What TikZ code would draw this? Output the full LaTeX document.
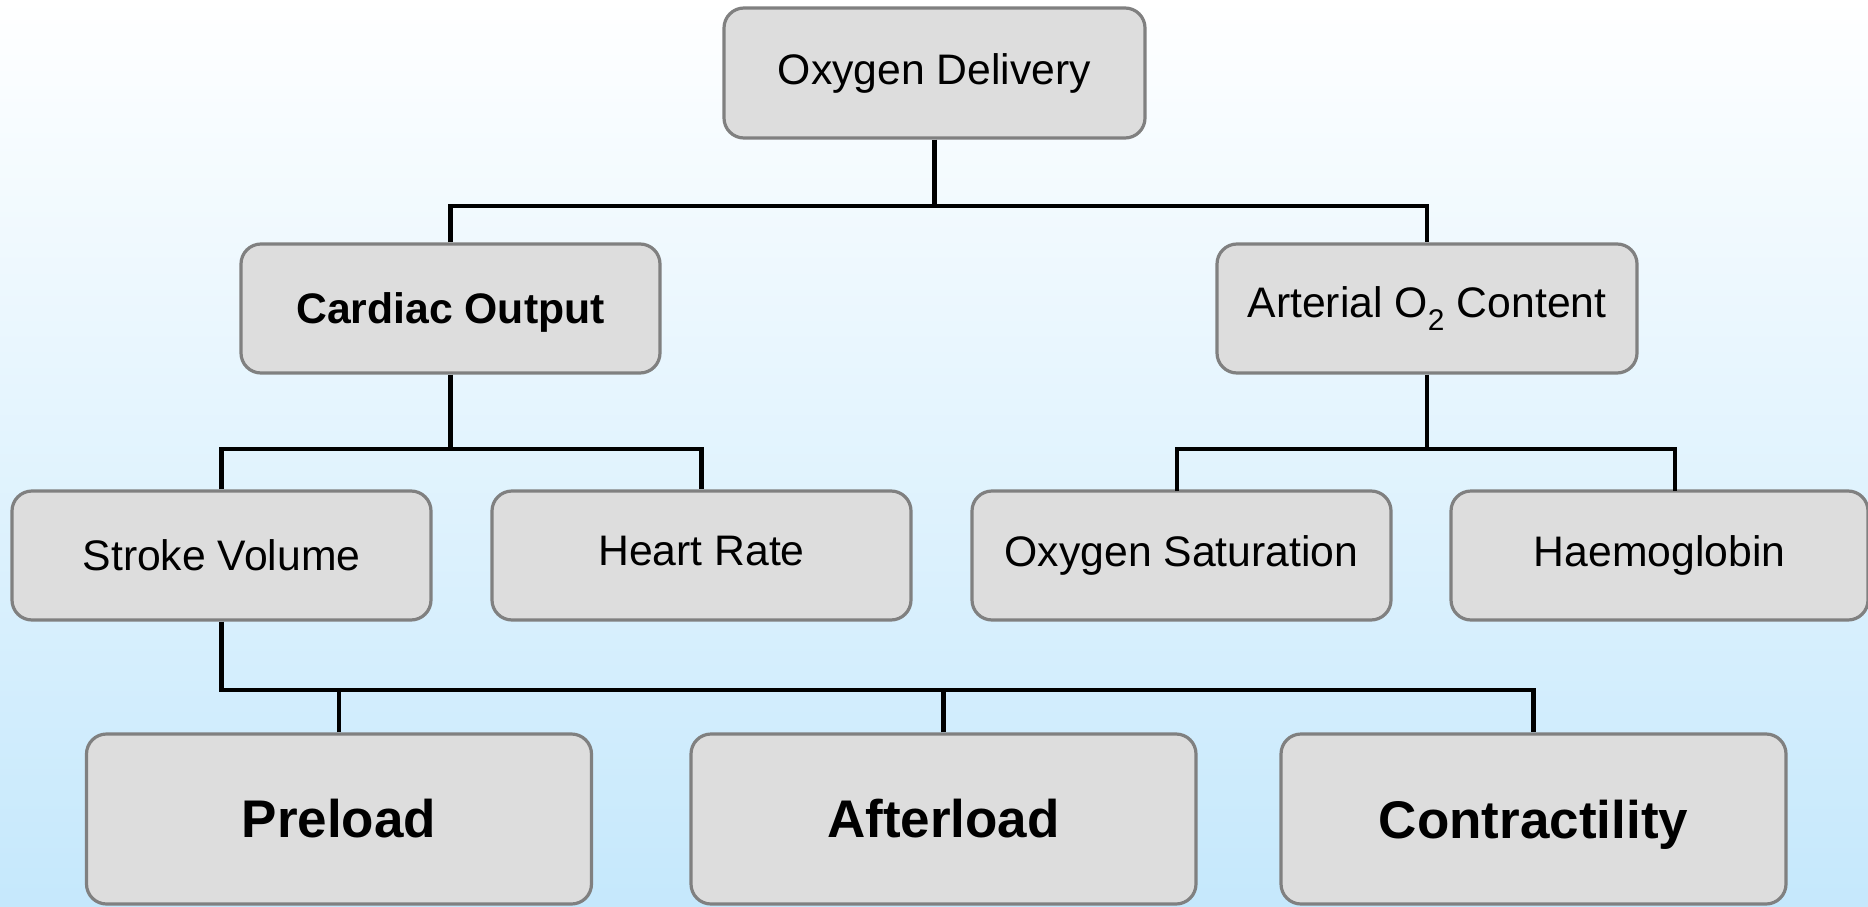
\documentclass[tikz,border=0pt]{standalone}
\usepackage{fontspec}
\setmainfont{Liberation Sans}
\definecolor{bgtop}{RGB}{255,255,255}
\definecolor{bgbot}{RGB}{197,232,252}
\definecolor{boxfill}{RGB}{221,221,221}
\definecolor{boxline}{RGB}{128,128,128}
\begin{document}
\begin{tikzpicture}[x=1pt,y=-1pt,
  box/.style={draw=boxline, line width=3.2pt, fill=boxfill, rounded corners=20pt,
    inner sep=0pt, minimum width=419pt, minimum height=129pt,
    font=\fontsize{42.7}{51}\selectfont},
  bigbox/.style={box, minimum width=505pt, minimum height=170pt,
    font=\fontsize{53}{63}\selectfont\bfseries},
  conn/.style={draw=black, line width=4.6pt, line join=miter}]
\useasboundingbox (0,0) rectangle (1868,907);
\shade[top color=bgtop, bottom color=bgbot] (0,0) rectangle (1868,907);

\node[box, minimum width=421pt, minimum height=130pt] (od) at (934.5,73) {Oxygen Delivery};
\node[box, font=\fontsize{42.7}{51}\selectfont\bfseries, text depth=0pt] (co) at (450.5,308.5) {Cardiac Output};
\node[box, minimum width=420pt] (ao) at (1427,308.5) {Arterial O\textsubscript{2} Content};
\node[box] (sv) at (221.5,555.5) {Stroke Volume};
\node[box, text depth=10pt] (hr) at (701.5,555.5) {Heart Rate};
\node[box] (os) at (1181.5,555.5) {Oxygen Saturation};
\node[box, minimum width=417pt] (hb) at (1659.5,555.5) {Haemoglobin};
\node[bigbox] (pl) at (339,819) {Preload};
\node[bigbox] (al) at (943.5,819) {Afterload};
\node[bigbox, text depth=0pt] (ct) at (1533.5,819) {Contractility};

\coordinate (b1) at (934.5,206);
\draw[conn] (od.south) -- (b1);
\draw[conn] (co.north) |- (b1) -| (ao.north);

\coordinate (b2) at (450.5,449);
\draw[conn] (co.south) -- (b2);
\draw[conn] (sv.north) |- (b2) -| (hr.north);

\coordinate (b3) at (1427,449);
\coordinate (hbtop) at (1675,491);
\coordinate (ostop) at (1177,491);
\draw[conn] (ao.south) -- (b3);
\draw[conn] (ostop) |- (b3) -| (hbtop);

\coordinate (b4) at (221.5,690);
\draw[conn] (sv.south) -- (b4) -| (ct.north);
\draw[conn] (pl.north) -- (pl.north |- b4);
\draw[conn] (al.north) -- (al.north |- b4);
\end{tikzpicture}
\end{document}
